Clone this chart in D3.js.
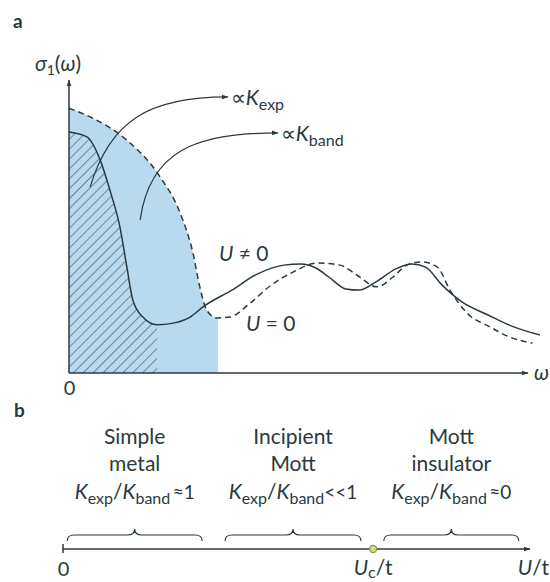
<!DOCTYPE html>
<html>
<head>
<meta charset="utf-8">
<script src="https://cdn.jsdelivr.net/npm/d3@7"></script>
<style>
body { margin: 0; background: #fff; }
text { font-family: Lato, "Open Sans", sans-serif; fill: #2b3940; }
</style>
</head>
<body>
<div id="chart"></div>
<script>
// panel a: sigma_1(omega), both axes in arbitrary units 0..100
var uZeroCurve = [[0, 91.3], [6, 87.2], [12.6, 80.3], [19.8, 67.7], [24.2, 55.2], [27, 41.4],
  [28.5, 29.7], [30, 21.7], [32.2, 19], [35, 19.3], [39.4, 24], [43.8, 30], [48.8, 34.8],
  [54, 37.9], [59, 37.2], [62.7, 33.8], [67.1, 29.7], [70.6, 33.1], [73.6, 37.2], [76.9, 38.3],
  [80.2, 36.6], [83, 28.6], [86.7, 20.7], [91.7, 15.9], [96, 12.4], [101, 10.3]];
var uNonZeroCurve = [[0, 83.1], [3.9, 81.4], [6.8, 73.4], [8.9, 63.1], [11.1, 50.3], [12.6, 36.6],
  [13.9, 25.2], [16.1, 19.3], [19.2, 16.6], [22.7, 17.2], [26.4, 19.3], [29.2, 22.8], [35.5, 28.6],
  [41, 34.1], [46.8, 37.2], [50.5, 37.6], [53.8, 36.2], [56.6, 33.1], [60.3, 29], [63.2, 28.6],
  [66.9, 31.4], [71.2, 35.9], [74.7, 37.6], [77.6, 36.6], [81.3, 30.3], [85.6, 24.5], [91.3, 20],
  [96.9, 15.9], [102.6, 13.1]];
var hatchEnd = 19.2; // limit of the K_exp area
var fillEnd = 32.5;  // limit of the K_band area
// bezier arrows (start, ctrl1, ctrl2, end)
var arrowExp = [[4.6, 64.1], [8.9, 87.2], [17.6, 95.2], [34.6, 95.2]];
var arrowBand = [[15.5, 52.8], [17.6, 76.6], [27.5, 82.8], [45.5, 82.8]];

// panel b: U/t axis, 0..100
var regionNames = [["Simple", "metal"], ["Incipient", "Mott"], ["Mott", "insulator"]];
var regionRatios = ["\u2009\u22481", "<<1", "\u2009\u22480"];
var braces = [[0.9, 29.8], [34.7, 63.8], [68.7, 97.6]];
var uCritical = 66.4;

var W = 550, H = 582;
var ink = "#2b3940";
var fs = 21, fsSub = 16;

var svg = d3.select("#chart").append("svg")
  .attr("width", W)
  .attr("height", H);

var defs = svg.append("defs");
defs.append("marker")
  .attr("id", "head")
  .attr("viewBox", "0 0 10 10")
  .attr("refX", 9).attr("refY", 5)
  .attr("markerWidth", 7).attr("markerHeight", 7)
  .attr("markerUnits", "userSpaceOnUse")
  .attr("orient", "auto")
  .append("path")
  .attr("d", "M0,1.5L10,5L0,8.5z")
  .attr("fill", ink);

var hatch = defs.append("pattern")
  .attr("id", "hatch")
  .attr("patternUnits", "userSpaceOnUse")
  .attr("width", 7).attr("height", 7)
  .attr("patternTransform", "rotate(45)");
hatch.append("rect").attr("width", 7).attr("height", 7).attr("fill", "#b9d9ef");
hatch.append("line")
  .attr("x1", 0).attr("y1", 0).attr("x2", 0).attr("y2", 7)
  .attr("stroke", "#2d4450").attr("stroke-width", 1.1);

// ---- panel a ----
var x = d3.scaleLinear().domain([0, 100]).range([69, 528]);
var y = d3.scaleLinear().domain([0, 100]).range([373, 83]);

var line = d3.line()
  .x(function(d) { return x(d[0]); })
  .y(function(d) { return y(d[1]); })
  .curve(d3.curveMonotoneX);

var area = d3.area()
  .x(function(d) { return x(d[0]); })
  .y0(y(0))
  .y1(function(d) { return y(d[1]); })
  .curve(d3.curveMonotoneX);

defs.append("clipPath").attr("id", "clipFill")
  .append("rect")
  .attr("x", x(0)).attr("y", 0)
  .attr("width", x(fillEnd) - x(0)).attr("height", y(0));
defs.append("clipPath").attr("id", "clipHatch")
  .append("rect")
  .attr("x", x(0)).attr("y", 0)
  .attr("width", x(hatchEnd) - x(0)).attr("height", y(0));

var a = svg.append("g");

a.append("path")
  .attr("d", area(uZeroCurve))
  .attr("clip-path", "url(#clipFill)")
  .attr("fill", "#b9d9ef");

a.append("path")
  .attr("d", area(uNonZeroCurve))
  .attr("clip-path", "url(#clipHatch)")
  .attr("fill", "url(#hatch)");

a.append("path")
  .attr("d", line(uZeroCurve))
  .attr("fill", "none")
  .attr("stroke", ink)
  .attr("stroke-width", 1.5)
  .attr("stroke-dasharray", "6,4");

a.append("path")
  .attr("d", line(uNonZeroCurve))
  .attr("fill", "none")
  .attr("stroke", ink)
  .attr("stroke-width", 1.5);

// axes
a.append("line")
  .attr("x1", x(0)).attr("y1", y(0))
  .attr("x2", x(100)).attr("y2", y(0))
  .attr("stroke", ink).attr("stroke-width", 1.5)
  .attr("marker-end", "url(#head)");
a.append("line")
  .attr("x1", x(0)).attr("y1", y(0))
  .attr("x2", x(0)).attr("y2", y(101))
  .attr("stroke", ink).attr("stroke-width", 1.5)
  .attr("marker-end", "url(#head)");

var xAxis = d3.axisBottom(x).tickValues([0]).tickSize(0).tickPadding(8);
var gx = a.append("g")
  .attr("transform", "translate(0," + y(0) + ")")
  .call(xAxis);
gx.select(".domain").remove();
gx.selectAll("text")
  .attr("font-size", 20)
  .attr("font-family", "Lato, sans-serif")
  .attr("fill", ink);

function bezier(p) {
  var path = d3.path();
  path.moveTo(x(p[0][0]), y(p[0][1]));
  path.bezierCurveTo(x(p[1][0]), y(p[1][1]), x(p[2][0]), y(p[2][1]), x(p[3][0]), y(p[3][1]));
  return path.toString();
}

[arrowExp, arrowBand].forEach(function(p) {
  a.append("path")
    .attr("d", bezier(p))
    .attr("fill", "none")
    .attr("stroke", ink)
    .attr("stroke-width", 1.2)
    .attr("marker-end", "url(#head)");
});

function propLabel(px, py, sub) {
  var t = a.append("text").attr("x", px).attr("y", py).attr("font-size", fs);
  t.append("tspan").text("\u221D");
  t.append("tspan").attr("font-style", "italic").text("K");
  t.append("tspan").attr("font-size", fsSub).attr("dy", 5).text(sub);
}
propLabel(x(arrowExp[3][0]) + 3, y(arrowExp[3][1]) + 8, "exp");
propLabel(x(arrowBand[3][0]) + 3, y(arrowBand[3][1]) + 8, "band");

var sig = a.append("text").attr("x", 35).attr("y", 71).attr("font-size", fs);
sig.append("tspan").attr("font-style", "italic").text("\u03C3");
sig.append("tspan").attr("font-size", 14).attr("dy", 4).text("1");
sig.append("tspan").attr("dy", -4).text("(");
sig.append("tspan").attr("font-style", "italic").text("\u03C9");
sig.append("tspan").text(")");

a.append("text")
  .attr("x", x(100) + 6).attr("y", y(0) + 7)
  .attr("font-size", fs).attr("font-style", "italic")
  .text("\u03C9");

var un = a.append("text").attr("x", 219).attr("y", 261).attr("font-size", fs);
un.append("tspan").attr("font-style", "italic").text("U");
un.append("tspan").text(" \u2260 0");
var uz = a.append("text").attr("x", 246).attr("y", 331).attr("font-size", fs);
uz.append("tspan").attr("font-style", "italic").text("U");
uz.append("tspan").text(" = 0");

svg.append("text").attr("x", 13).attr("y", 28)
  .attr("font-size", 19).attr("font-weight", "bold").text("a");
svg.append("text").attr("x", 14).attr("y", 417)
  .attr("font-size", 19).attr("font-weight", "bold").text("b");

// ---- panel b ----
var u = d3.scaleLinear().domain([0, 100]).range([63, 530]);
var axisY = 549;
var b = svg.append("g");

b.append("line")
  .attr("x1", u(0)).attr("y1", axisY)
  .attr("x2", u(100)).attr("y2", axisY)
  .attr("stroke", ink).attr("stroke-width", 1.5)
  .attr("marker-end", "url(#head)");
b.append("line")
  .attr("x1", u(0)).attr("y1", axisY - 5)
  .attr("x2", u(0)).attr("y2", axisY + 4)
  .attr("stroke", ink).attr("stroke-width", 1.5);

var uAxis = d3.axisBottom(u).tickValues([0]).tickSize(0).tickPadding(13);
var gu = b.append("g")
  .attr("transform", "translate(0," + axisY + ")")
  .call(uAxis);
gu.select(".domain").remove();
gu.selectAll("text")
  .attr("font-size", 20)
  .attr("font-family", "Lato, sans-serif")
  .attr("fill", ink);

b.append("circle")
  .attr("cx", u(uCritical)).attr("cy", axisY).attr("r", 3.5)
  .attr("fill", "#dcd98c").attr("stroke", "#8f9a4c").attr("stroke-width", 1.3);

var uc = b.append("text").attr("x", u(uCritical)).attr("y", axisY + 26)
  .attr("font-size", fs).attr("text-anchor", "middle");
uc.append("tspan").attr("font-style", "italic").text("U");
uc.append("tspan").attr("font-size", fsSub).attr("dy", 3).text("c");
uc.append("tspan").attr("dy", -3).text("/t");

var ut = b.append("text").attr("x", 549).attr("y", axisY + 26)
  .attr("font-size", fs).attr("text-anchor", "end");
ut.append("tspan").attr("font-style", "italic").text("U");
ut.append("tspan").text("/t");

function brace(x0, x1, yb) {
  var m = (x0 + x1) / 2, h = 6, r = 7;
  var p = d3.path();
  p.moveTo(x0, yb + h);
  p.quadraticCurveTo(x0, yb, x0 + r, yb);
  p.lineTo(m - r, yb);
  p.quadraticCurveTo(m, yb, m, yb - h);
  p.quadraticCurveTo(m, yb, m + r, yb);
  p.lineTo(x1 - r, yb);
  p.quadraticCurveTo(x1, yb, x1, yb + h);
  return p.toString();
}

braces.forEach(function(br, i) {
  var x0 = u(br[0]), x1 = u(br[1]), cx = (x0 + x1) / 2;
  b.append("path")
    .attr("d", brace(x0, x1, 535))
    .attr("fill", "none")
    .attr("stroke", ink)
    .attr("stroke-width", 1.2);

  regionNames[i].forEach(function(s, j) {
    b.append("text")
      .attr("x", cx).attr("y", 444 + j * 27)
      .attr("font-size", fs).attr("text-anchor", "middle")
      .text(s);
  });

  var r = b.append("text")
    .attr("x", cx).attr("y", 499)
    .attr("font-size", fs).attr("text-anchor", "middle");
  r.append("tspan").attr("font-style", "italic").text("K");
  r.append("tspan").attr("font-size", fsSub).attr("dy", 5).text("exp");
  r.append("tspan").attr("dy", -5).text("/");
  r.append("tspan").attr("font-style", "italic").text("K");
  r.append("tspan").attr("font-size", fsSub).attr("dy", 5).text("band");
  r.append("tspan").attr("dy", -5).attr("font-size", 19).text(regionRatios[i]);
});
</script>
</body>
</html>
